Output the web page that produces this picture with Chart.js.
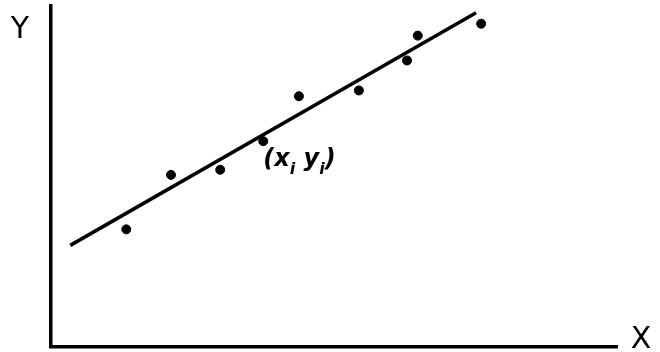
<!DOCTYPE html>
<html>
<head>
<meta charset="utf-8">
<script src="https://cdn.jsdelivr.net/npm/chart.js@4"></script>
<style>
  html, body { margin: 0; padding: 0; background: #fff; }
  #wrap { width: 660px; height: 352px; position: relative; }
</style>
</head>
<body>
<div id="wrap"><canvas id="fitChart"></canvas></div>
<script>
const pointX = [1.33, 2.12, 2.99, 3.75, 4.38, 5.44, 6.29, 6.48, 7.60];
const pointY = [3.44, 5.04, 5.19, 6.03, 7.35, 7.52, 8.40, 9.13, 9.48];
// fitted straight line, two end points
const lineX = [0.34, 7.51];
const lineY = [2.97, 9.80];
// labels
const axisLabels = { x: 'X', y: 'Y' };
const pointLabel = { x: 3.75, y: 5.31, main: ['(x', 'y', ')'], sub: 'i' };

const labelsPlugin = {
  id: 'sketchLabels',
  afterDraw(chart) {
    const { ctx, chartArea, scales } = chart;
    ctx.save();
    ctx.fillStyle = '#000';
    ctx.textBaseline = 'alphabetic';
    ctx.font = '30px "DejaVu Sans"';
    ctx.textAlign = 'center';
    ctx.fillText(axisLabels.y, chartArea.left - 31, 38);
    ctx.fillText(axisLabels.x, chartArea.right + 24, chartArea.bottom + 1);

    // (x_i y_i) annotation
    let px = scales.x.getPixelForValue(pointLabel.x);
    const py = scales.y.getPixelForValue(pointLabel.y);
    ctx.textAlign = 'left';
    const big = 'italic bold 24px "DejaVu Sans"';
    const small = 'italic bold 16px "DejaVu Sans"';
    const parts = [
      [pointLabel.main[0], big, 0], [pointLabel.sub, small, 8], [' ', big, 0],
      [pointLabel.main[1], big, 0], [pointLabel.sub, small, 8], [pointLabel.main[2], big, 0]
    ];
    for (const [t, f, dy] of parts) {
      ctx.font = f;
      ctx.fillText(t, px, py + dy);
      px += ctx.measureText(t).width;
    }
    ctx.restore();
  }
};

const ctx = document.getElementById('fitChart').getContext('2d');
new Chart(ctx, {
  type: 'scatter',
  data: {
    datasets: [
      {
        type: 'line',
        data: lineX.map((x, i) => ({ x, y: lineY[i] })),
        borderColor: '#000',
        borderWidth: 3.5,
        pointRadius: 0,
        fill: false
      },
      {
        data: pointX.map((x, i) => ({ x, y: pointY[i] })),
        backgroundColor: '#000',
        borderColor: '#000',
        pointRadius: 4.5
      }
    ]
  },
  options: {
    responsive: true,
    maintainAspectRatio: false,
    animation: false,
    layout: { padding: { left: 51, top: 6, right: 43, bottom: 3 } },
    plugins: { legend: { display: false }, tooltip: { enabled: false } },
    scales: {
      x: {
        min: 0, max: 10,
        grid: { display: false },
        ticks: { display: false },
        border: { display: true, color: '#000', width: 3.5 },
        afterFit: (s) => { s.height = 0; }
      },
      y: {
        min: 0, max: 10,
        grid: { display: false },
        ticks: { display: false },
        border: { display: true, color: '#000', width: 3.5 },
        afterFit: (s) => { s.width = 0; }
      }
    }
  },
  plugins: [labelsPlugin]
});
</script>
</body>
</html>
